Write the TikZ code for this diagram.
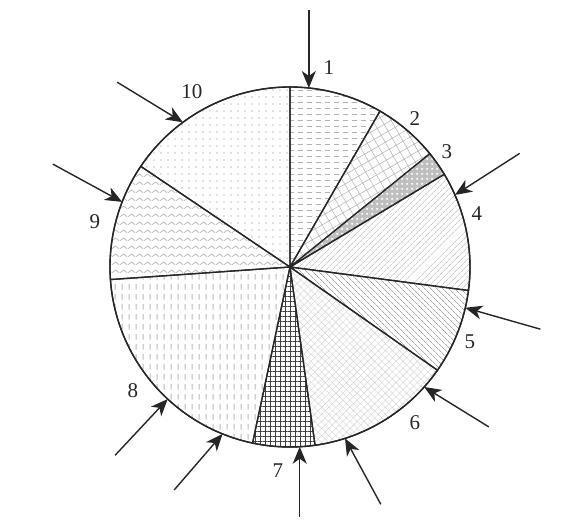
\documentclass[tikz,border=0pt]{standalone}
\usepackage{fontspec}
\setmainfont{Liberation Serif}
\usetikzlibrary{arrows.meta,patterns,patterns.meta}

\tikzdeclarepattern{name=hdash, type=uncolored,
  bounding box={(0,0) and (9pt,6pt)}, tile size={(9pt,6pt)},
  code={\draw[line width=0.9pt] (1pt,3pt) -- (6.5pt,3pt);}}
\tikzdeclarepattern{name=vdash, type=uncolored,
  bounding box={(0,0) and (7pt,10pt)}, tile size={(7pt,10pt)},
  code={\draw[line width=1pt] (3.5pt,1.5pt) -- (3.5pt,7.5pt);}}
\tikzdeclarepattern{name=zigzag, type=uncolored,
  bounding box={(0,0) and (8pt,8pt)}, tile size={(8pt,8pt)},
  code={\draw[line width=0.8pt] (0,2.5pt) -- (4pt,5.5pt) -- (8pt,2.5pt);}}
\tikzdeclarepattern{name=rings, type=uncolored,
  bounding box={(0,0) and (5pt,5pt)}, tile size={(5pt,5pt)},
  code={\fill (2.5pt,2.5pt) circle (1.4pt);}}

\tikzset{
  slice/.style={draw=black!85,line width=1.3pt,line join=round},
  rim/.style={draw=black!85,line width=1.4pt},
  arr/.style={-{Stealth[length=17pt,width=14pt,inset=5pt]},black!85,line width=1.4pt},
  lab/.style={font=\fontsize{21}{23}\selectfont,text=black!85,inner sep=0pt},
}

\begin{document}
\begin{tikzpicture}[x=1pt,y=1pt]
\useasboundingbox (-290,-264) rectangle (284,267);
\coordinate (O) at (0,0);

% slices, clockwise from the top
\draw[slice,pattern=hdash,pattern color=gray!60]
  (O) -- (90:180) arc[start angle=90,end angle=60,radius=180] -- cycle;
\draw[slice,pattern={Hatch[angle=30,distance=8pt,line width=0.6pt]},pattern color=gray!55]
  (O) -- (60:180) arc[start angle=60,end angle=39,radius=180] -- cycle;
\draw[slice,preaction={fill=gray!50},pattern=rings,pattern color=white]
  (O) -- (39:180) arc[start angle=39,end angle=31,radius=180] -- cycle;
\draw[slice,pattern={Lines[angle=45,distance=4pt,line width=0.6pt]},pattern color=gray!60]
  (O) -- (31:180) arc[start angle=31,end angle=-7.5,radius=180] -- cycle;
\draw[slice,pattern={Lines[angle=-45,distance=4pt,line width=0.7pt]},pattern color=gray!70]
  (O) -- (-7.5:180) arc[start angle=-7.5,end angle=-35,radius=180] -- cycle;
\draw[slice,pattern={Hatch[angle=45,distance=5pt,line width=0.4pt]},pattern color=gray!35]
  (O) -- (-35:180) arc[start angle=-35,end angle=-82,radius=180] -- cycle;
\draw[slice,pattern={Hatch[angle=0,distance=5pt,line width=0.7pt]},pattern color=black!75]
  (O) -- (-82:180) arc[start angle=-82,end angle=-102,radius=180] -- cycle;
\draw[slice,pattern=vdash,pattern color=gray!55]
  (O) -- (-102:180) arc[start angle=-102,end angle=-176,radius=180] -- cycle;
\draw[slice,pattern=zigzag,pattern color=gray!55]
  (O) -- (-176:180) arc[start angle=-176,end angle=-214,radius=180] -- cycle;
\draw[slice,pattern={Dots[distance=7pt,radius=0.8pt]},pattern color=gray!45]
  (O) -- (-214:180) arc[start angle=-214,end angle=-270,radius=180] -- cycle;
\draw[rim] (O) circle (180);

% arrows onto the rim
\coordinate (t1) at (84:180);     \coordinate (s1) at ([shift={(90:78)}]t1);
\coordinate (t2) at (23.6:180);   \coordinate (s2) at ([shift={(32.7:77)}]t2);
\coordinate (t3) at (-13.1:180);  \coordinate (s3) at ([shift={(-15.9:78)}]t3);
\coordinate (t4) at (-41.8:180);  \coordinate (s4) at ([shift={(-31.7:76)}]t4);
\coordinate (t5) at (-72.2:180);  \coordinate (s5) at ([shift={(-61.5:75)}]t5);
\coordinate (t6) at (-86.9:180);  \coordinate (s6) at ([shift={(-90:70)}]t6);
\coordinate (t7) at (-112:180);   \coordinate (s7) at ([shift={(229.2:74)}]t7);
\coordinate (t8) at (227.2:180);  \coordinate (s8) at ([shift={(226.9:77)}]t8);
\coordinate (t9) at (158.8:180);  \coordinate (s9) at ([shift={(151.4:79)}]t9);
\coordinate (t10) at (126.5:180); \coordinate (s10) at ([shift={(148.6:77)}]t10);
\foreach \i in {1,...,10}
  \draw[arr] (s\i) -- (t\i);

% labels
\node[lab] (n1) at (39,199) {1};
\node[lab] (n2) at (125,148) {2};
\node[lab] (n3) at (157,115) {3};
\node[lab] (n4) at (187,53) {4};
\node[lab] (n5) at (180,-75) {5};
\node[lab] (n6) at (125,-156) {6};
\node[lab] (n7) at (-12,-204) {7};
\node[lab] (n8) at (-157,-124) {8};
\node[lab] (n9) at (-195,45) {9};
\node[lab] (n10) at (-98,175) {10};
\end{tikzpicture}
\end{document}
